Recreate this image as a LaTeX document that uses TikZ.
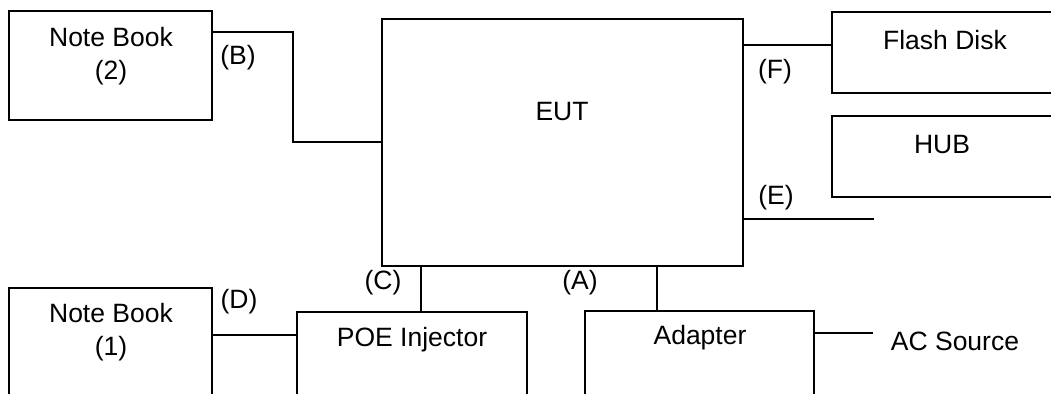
\documentclass[tikz,border=0pt]{standalone}
\usepackage{fontspec}
\setmainfont{Liberation Sans}
\usetikzlibrary{positioning, calc, fit}

\begin{document}
\begin{tikzpicture}[x=0.5pt, y=-0.5pt,
    box/.style={draw, line width=1pt, inner sep=0pt},
    wire/.style={line width=1pt},
    lbl/.style={font=\fontsize{13.25}{16.5}\selectfont, inner sep=1pt, align=center}]
   \clip (0,0) rectangle (1051,394);
   % Boxes
   \node[box, fit={(9,11) (212,120)}] (nb2) {};
   \node[box, fit={(382,19) (743,266)}] (eut) {};
   \node[box, fit={(832,12) (1056,93)}] (flash) {};
   \node[box, fit={(832,116) (1056,197)}] (hub) {};
   \node[box, fit={(9,288) (212,400)}] (nb1) {};
   \node[box, fit={(297,312) (527,400)}] (poe) {};
   \node[box, fit={(585,311) (814,400)}] (adapter) {};
   % Box texts
   \node[lbl] (nb2txt) at (111,56.5) {Note Book\\(2)};
   \node[lbl] (euttxt) at (562,112) {EUT};
   \node[lbl] (flashtxt) at (945,40) {Flash Disk};
   \node[lbl] (hubtxt) at (942,145) {HUB};
   \node[lbl] (nb1txt) at (111,332) {Note Book\\(1)};
   \node[lbl] (poetxt) at (412,340) {POE Injector};
   \node[lbl] (adaptertxt) at (700,338) {Adapter};
   \node[lbl] (acsrc) at (955,341) {AC Source};
   % Port labels
   \node[lbl] (portB) at (238,58) {(B)};
   \node[lbl] (portF) at (775,72) {(F)};
   \node[lbl] (portE) at (776,198) {(E)};
   \node[lbl] (portC) at (383,283) {(C)};
   \node[lbl] (portD) at (239,302) {(D)};
   \node[lbl] (portA) at (580,283) {(A)};
   % Cables
   \coordinate (eEnd) at (874,219);
   \coordinate (acEnd) at (873,333);
   \draw[wire] (nb2.east |- 0,32) -- (293,32) |- (eut.west);
   \draw[wire] (eut.east |- 0,45) -- (flash.west |- 0,45);
   \draw[wire] (eut.east |- eEnd) -- (eEnd);
   \draw[wire] (eut.south -| 421,0) -- (poe.north -| 421,0);
   \draw[wire] (eut.south -| 657,0) -- (adapter.north -| 657,0);
   \draw[wire] (nb1.east |- 0,335) -- (poe.west |- 0,335);
   \draw[wire] (adapter.east |- acEnd) -- (acEnd);
\end{tikzpicture}
\end{document}
